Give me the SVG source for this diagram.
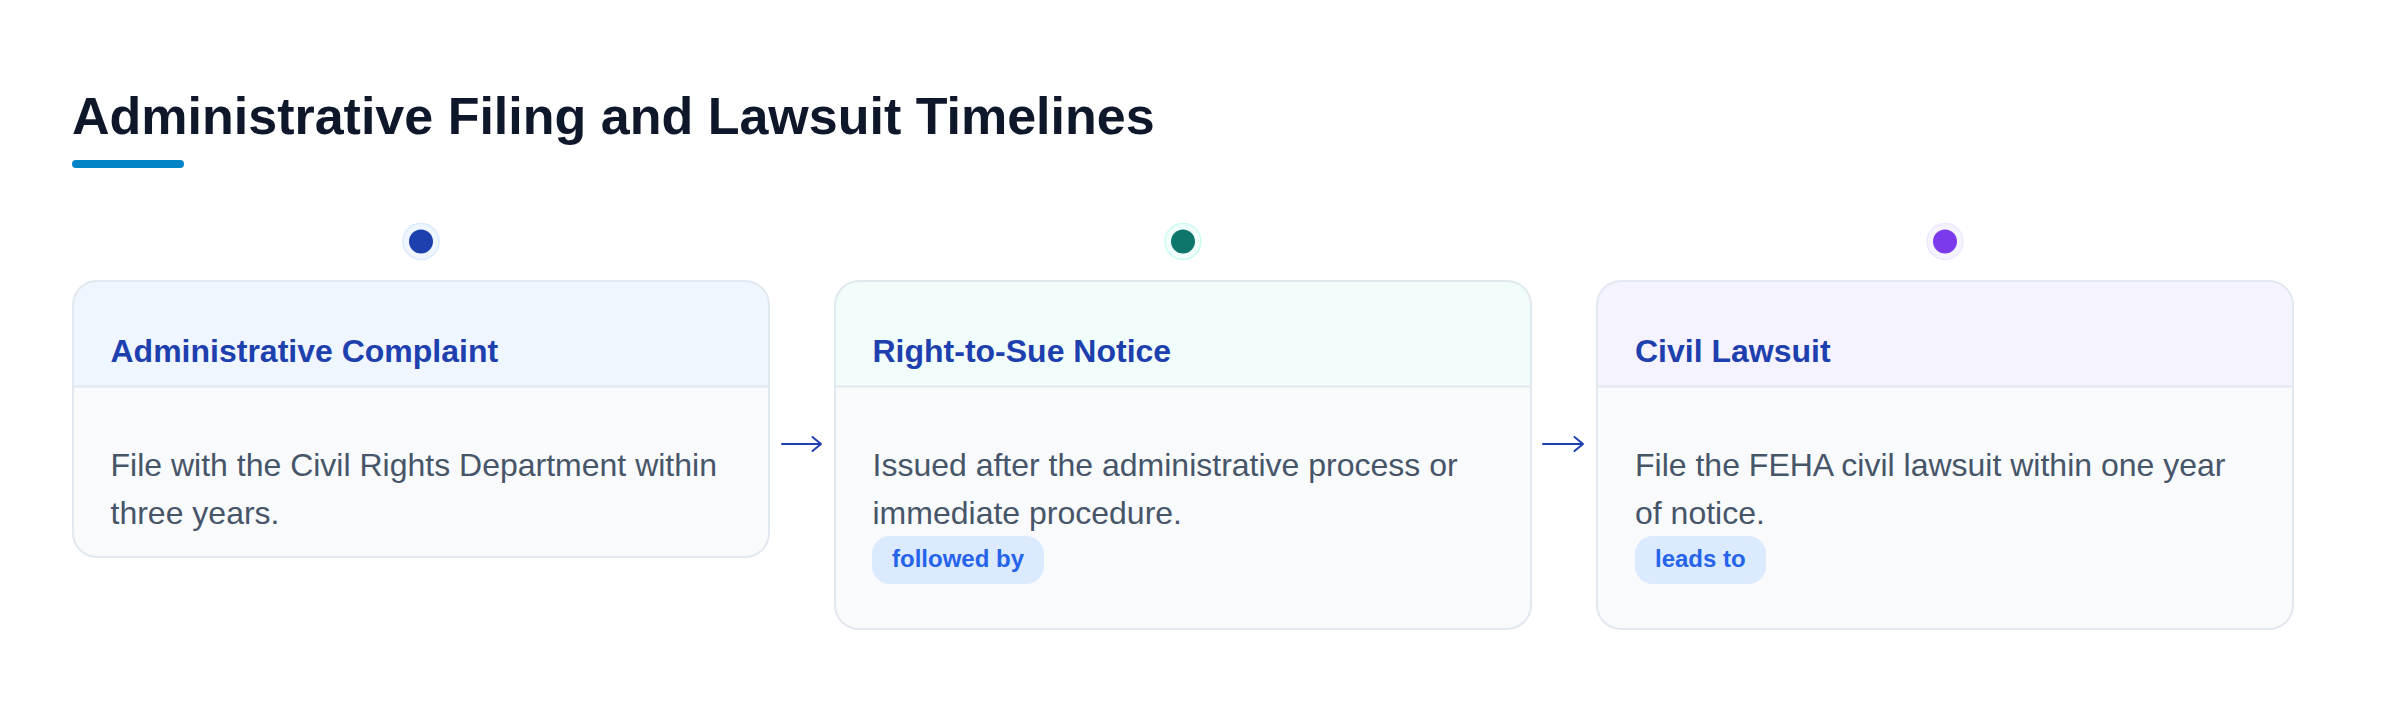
<svg xmlns="http://www.w3.org/2000/svg" width="2400" height="702" viewBox="0 0 2400 702">
<defs>
<style>
.title{font-family:"Liberation Sans",Arial,sans-serif;font-weight:700;font-size:52px;fill:#0f172a}
.head{font-family:"Liberation Sans",Arial,sans-serif;font-weight:700;font-size:32px;fill:#1e40af}
.body{font-family:"Liberation Sans",Arial,sans-serif;font-size:32px;fill:#475569}
.badge{fill:#dbeafe}
.badgetxt{font-family:"Liberation Sans",Arial,sans-serif;font-weight:700;font-size:24px;fill:#2563eb}
.cardbg{fill:#f8fafc}
.border{fill:none;stroke:#e2e8f0;stroke-width:2}
.divider{stroke:#e2e8f0;stroke-width:2}
.conn{fill:none;stroke:#1e40af;stroke-width:2;stroke-linecap:round;stroke-linejoin:round}
</style>
</defs>
<rect width="2400" height="702" fill="#ffffff"/>
<g id="header">
<text class="title" x="72" y="134">Administrative Filing and Lawsuit Timelines</text>
<rect x="72" y="160" width="112" height="8" rx="4" fill="#0284c7"/>
</g>
<g id="node-administrative-complaint">
<circle cx="421" cy="241.5" r="18" fill="#eff6ff" stroke="#dbeafe" stroke-width="1.5"/>
<circle cx="421" cy="241.5" r="12" fill="#1e40af"/>
<rect class="cardbg" x="73" y="281" width="696" height="276" rx="24"/>
<path d="M73,386 V305 A24,24 0 0 1 97,281 H745 A24,24 0 0 1 769,305 V386 Z" fill="#eff6ff"/>
<line class="divider" x1="73" y1="386.5" x2="769" y2="386.5"/>
<rect class="border" x="73" y="281" width="696" height="276" rx="24"/>
<text class="head" x="110.5" y="362">Administrative Complaint</text>
<text class="body" x="110.5" y="476">File with the Civil Rights Department within</text>
<text class="body" x="110.5" y="524">three years.</text>
</g>
<g id="node-right-to-sue-notice">
<circle cx="1183" cy="241.5" r="18" fill="#f0fdfa" stroke="#ccfbf1" stroke-width="1.5"/>
<circle cx="1183" cy="241.5" r="12" fill="#0f766e"/>
<rect class="cardbg" x="835" y="281" width="696" height="348" rx="24"/>
<path d="M835,386 V305 A24,24 0 0 1 859,281 H1507 A24,24 0 0 1 1531,305 V386 Z" fill="#f0fdfa"/>
<line class="divider" x1="835" y1="386.5" x2="1531" y2="386.5"/>
<rect class="border" x="835" y="281" width="696" height="348" rx="24"/>
<text class="head" x="872.5" y="362">Right-to-Sue Notice</text>
<text class="body" x="872.5" y="476">Issued after the administrative process or</text>
<text class="body" x="872.5" y="524">immediate procedure.</text>
<rect class="badge" x="872" y="536" width="172" height="48" rx="18"/>
<text class="badgetxt" x="892" y="567">followed by</text>
</g>
<g id="node-civil-lawsuit">
<circle cx="1945" cy="241.5" r="18" fill="#f5f3ff" stroke="#ede9fe" stroke-width="1.5"/>
<circle cx="1945" cy="241.5" r="12" fill="#7c3aed"/>
<rect class="cardbg" x="1597" y="281" width="696" height="348" rx="24"/>
<path d="M1597,386 V305 A24,24 0 0 1 1621,281 H2269 A24,24 0 0 1 2293,305 V386 Z" fill="#f5f3ff"/>
<line class="divider" x1="1597" y1="386.5" x2="2293" y2="386.5"/>
<rect class="border" x="1597" y="281" width="696" height="348" rx="24"/>
<text class="head" x="1635" y="362">Civil Lawsuit</text>
<text class="body" x="1635" y="476">File the FEHA civil lawsuit within one year</text>
<text class="body" x="1635" y="524">of notice.</text>
<rect class="badge" x="1635" y="536" width="131" height="48" rx="18"/>
<text class="badgetxt" x="1655" y="567">leads to</text>
</g>
<g id="connectors">
<path class="conn" d="M782,444 H821 M812.5,437 L821,444 L812.5,451"/>
<path class="conn" d="M1543,444 H1583 M1574.5,437 L1583,444 L1574.5,451"/>
</g>
</svg>
